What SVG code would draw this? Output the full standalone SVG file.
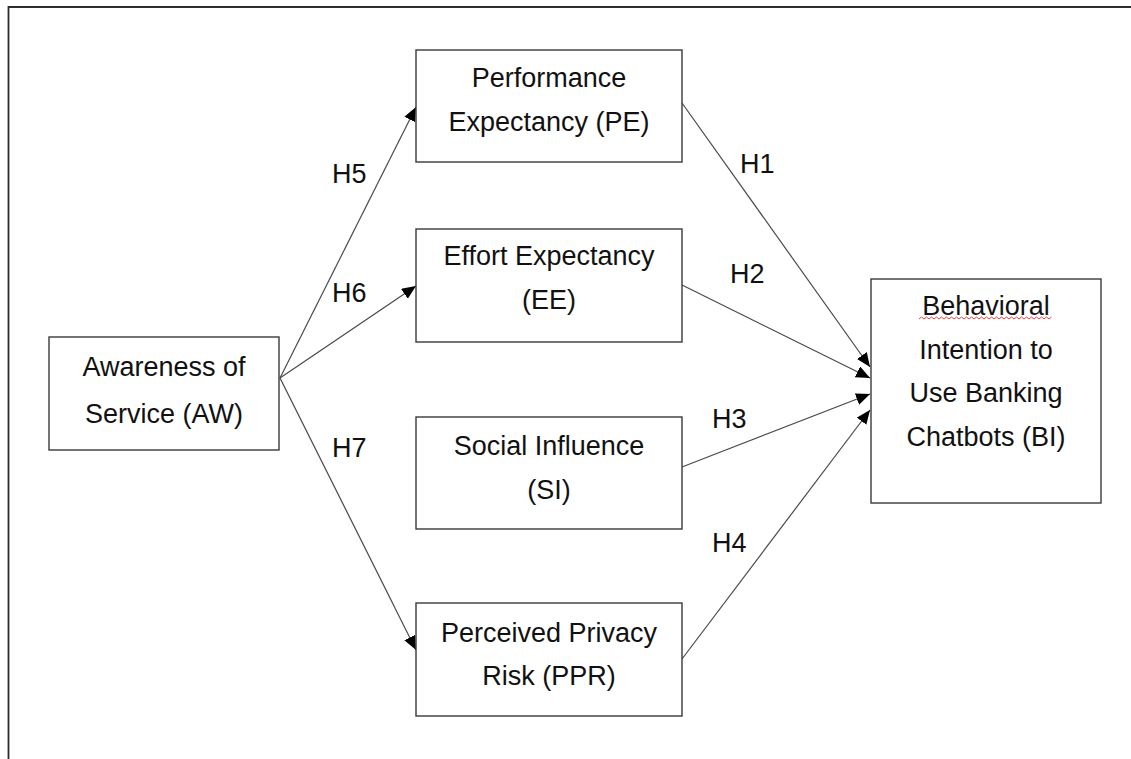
<svg xmlns="http://www.w3.org/2000/svg" width="1131" height="759" viewBox="0 0 1131 759">
  <style>
    .box { fill: #ffffff; stroke: #3a3a3a; stroke-width: 1.4; }
    .lbl { font-family: "Liberation Sans", Arial, sans-serif; font-size: 27px; fill: #111111; text-anchor: middle; }
    .hyp { font-family: "Liberation Sans", Arial, sans-serif; font-size: 27px; fill: #111111; }
    .edge { fill: none; stroke: #4a4a4a; stroke-width: 1.2; marker-end: url(#arrow); }
    .frame { fill: none; stroke: #2e2e2e; stroke-width: 1.8; }
  </style>
  <defs>
    <marker id="arrow" markerUnits="userSpaceOnUse" markerWidth="15" markerHeight="13" refX="14" refY="6" orient="auto">
      <path d="M0,0 L14,6 L0,12 Z" fill="#000000"/>
    </marker>
  </defs>

  <rect width="1131" height="759" fill="#ffffff"/>

  <!-- page frame (top and left edges) -->
  <path class="frame" d="M8.5,759 L8.5,7 L1131,7"/>

  <!-- connectors -->
  <g id="connectors">
    <line class="edge" x1="280" y1="378" x2="416" y2="107"/>
    <line class="edge" x1="280" y1="378" x2="416" y2="286"/>
    <line class="edge" x1="280" y1="378" x2="416" y2="650"/>
    <line class="edge" x1="682" y1="103" x2="870" y2="367"/>
    <line class="edge" x1="682" y1="285" x2="870" y2="378"/>
    <line class="edge" x1="682" y1="467" x2="870" y2="394"/>
    <line class="edge" x1="682" y1="659" x2="870" y2="410"/>
    <text class="hyp" x="332" y="183">H5</text>
    <text class="hyp" x="332" y="302">H6</text>
    <text class="hyp" x="332" y="457">H7</text>
    <text class="hyp" x="740" y="173">H1</text>
    <text class="hyp" x="730" y="283">H2</text>
    <text class="hyp" x="712" y="428">H3</text>
    <text class="hyp" x="712" y="552">H4</text>
  </g>

  <!-- nodes -->
  <g id="node-aw">
    <rect class="box" x="49" y="337" width="230" height="113"/>
    <text class="lbl" x="164" y="376">Awareness of</text>
    <text class="lbl" x="164" y="423">Service (AW)</text>
  </g>
  <g id="node-pe">
    <rect class="box" x="416" y="50" width="266" height="112"/>
    <text class="lbl" x="549" y="87">Performance</text>
    <text class="lbl" x="549" y="131">Expectancy (PE)</text>
  </g>
  <g id="node-ee">
    <rect class="box" x="416" y="229" width="266" height="113"/>
    <text class="lbl" x="549" y="265">Effort Expectancy</text>
    <text class="lbl" x="549" y="309">(EE)</text>
  </g>
  <g id="node-si">
    <rect class="box" x="416" y="417" width="266" height="112"/>
    <text class="lbl" x="549" y="455">Social Influence</text>
    <text class="lbl" x="549" y="499">(SI)</text>
  </g>
  <g id="node-ppr">
    <rect class="box" x="416" y="603" width="266" height="113"/>
    <text class="lbl" x="549" y="642">Perceived Privacy</text>
    <text class="lbl" x="549" y="685">Risk (PPR)</text>
  </g>
  <g id="node-bi">
    <rect class="box" x="871" y="279" width="230" height="224"/>
    <text class="lbl" x="986" y="315">Behavioral</text>
    <!-- spell-check squiggle under the first word -->
    <path d="M919,319 l2.5,-2 l2.5,2 l2.5,-2 l2.5,2 l2.5,-2 l2.5,2 l2.5,-2 l2.5,2 l2.5,-2 l2.5,2 l2.5,-2 l2.5,2 l2.5,-2 l2.5,2 l2.5,-2 l2.5,2 l2.5,-2 l2.5,2 l2.5,-2 l2.5,2 l2.5,-2 l2.5,2 l2.5,-2 l2.5,2 l2.5,-2 l2.5,2 l2.5,-2 l2.5,2 l2.5,-2 l2.5,2 l2.5,-2 l2.5,2 l2.5,-2 l2.5,2 l2.5,-2 l2.5,2 l2.5,-2 l2.5,2 l2.5,-2 l2.5,2 l2.5,-2 l2.5,2 l2.5,-2 l2.5,2 l2.5,-2 l2.5,2 l2.5,-2 l2.5,2 l2.5,-2 l2.5,2 l2.5,-2 l2.5,2 l2.5,-2" fill="none" stroke="#e03030" stroke-width="0.9"/>
    <text class="lbl" x="986" y="359">Intention to</text>
    <text class="lbl" x="986" y="402">Use Banking</text>
    <text class="lbl" x="986" y="446">Chatbots (BI)</text>
  </g>
</svg>
